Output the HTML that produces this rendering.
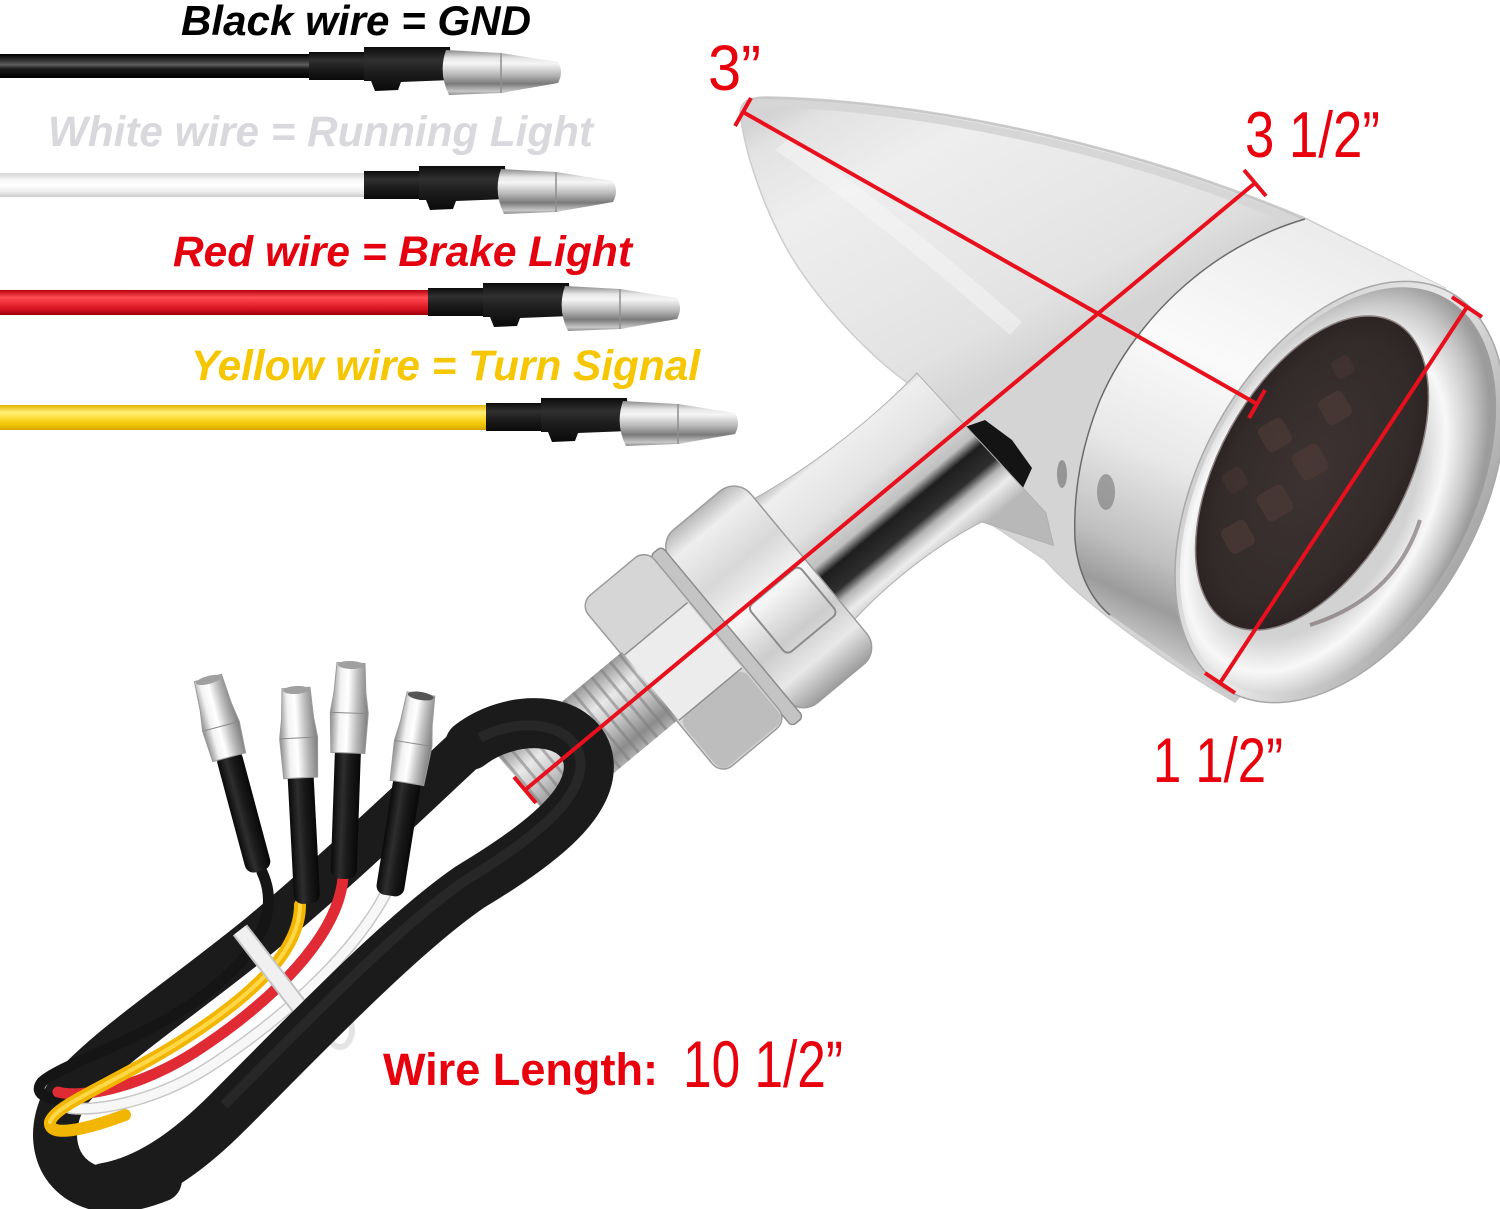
<!DOCTYPE html>
<html><head><meta charset="utf-8"><style>
html,body{margin:0;padding:0;background:#fff;}
svg{display:block;}
</style></head><body>
<svg width="1500" height="1209" viewBox="0 0 1500 1209" xmlns="http://www.w3.org/2000/svg" font-family="'Liberation Sans', Arial, sans-serif">
<defs>
 <linearGradient id="wBlack" x1="0" y1="0" x2="0" y2="1">
  <stop offset="0" stop-color="#000"/><stop offset="0.3" stop-color="#3a3a3a"/><stop offset="0.45" stop-color="#5e5e5e"/><stop offset="0.62" stop-color="#1a1a1a"/><stop offset="1" stop-color="#000"/>
 </linearGradient>
 <linearGradient id="wWhite" x1="0" y1="0" x2="0" y2="1">
  <stop offset="0" stop-color="#d4d4d4"/><stop offset="0.3" stop-color="#f8f8f8"/><stop offset="0.5" stop-color="#fff"/><stop offset="0.8" stop-color="#ebebeb"/><stop offset="1" stop-color="#cbcbcb"/>
 </linearGradient>
 <linearGradient id="wRed" x1="0" y1="0" x2="0" y2="1">
  <stop offset="0" stop-color="#b5000c"/><stop offset="0.3" stop-color="#ff4d54"/><stop offset="0.5" stop-color="#f0303a"/><stop offset="0.8" stop-color="#d0101c"/><stop offset="1" stop-color="#9c0008"/>
 </linearGradient>
 <linearGradient id="wYel" x1="0" y1="0" x2="0" y2="1">
  <stop offset="0" stop-color="#e2b400"/><stop offset="0.3" stop-color="#fff07a"/><stop offset="0.5" stop-color="#ffdf3a"/><stop offset="0.8" stop-color="#f0c300"/><stop offset="1" stop-color="#d2a400"/>
 </linearGradient>
 <linearGradient id="shrink" x1="0" y1="0" x2="0" y2="1">
  <stop offset="0" stop-color="#0c0c0c"/><stop offset="0.3" stop-color="#303030"/><stop offset="0.6" stop-color="#1c1c1c"/><stop offset="1" stop-color="#0a0a0a"/>
 </linearGradient>
 <linearGradient id="shrinkV" x1="0" y1="0" x2="1" y2="0">
  <stop offset="0" stop-color="#0a0a0a"/><stop offset="0.35" stop-color="#2e2e2e"/><stop offset="0.6" stop-color="#1a1a1a"/><stop offset="1" stop-color="#080808"/>
 </linearGradient>
 <linearGradient id="metal" x1="0" y1="0" x2="0" y2="1">
  <stop offset="0" stop-color="#8a8a8a"/><stop offset="0.18" stop-color="#e6e6e6"/><stop offset="0.3" stop-color="#f5f5f5"/><stop offset="0.55" stop-color="#b8b8b8"/><stop offset="0.75" stop-color="#7a7a7a"/><stop offset="0.92" stop-color="#c8c8c8"/><stop offset="1" stop-color="#8a8a8a"/>
 </linearGradient>
 <linearGradient id="metalH" x1="0" y1="0" x2="1" y2="0">
  <stop offset="0" stop-color="#8c8c8c"/><stop offset="0.25" stop-color="#f2f2f2"/><stop offset="0.45" stop-color="#ffffff"/><stop offset="0.7" stop-color="#bdbdbd"/><stop offset="1" stop-color="#7c7c7c"/>
 </linearGradient>
 <linearGradient id="bodyG" gradientUnits="userSpaceOnUse" x1="800" y1="100" x2="960" y2="400">
  <stop offset="0" stop-color="#d4d4d4"/><stop offset="0.07" stop-color="#e2e2e2"/><stop offset="0.3" stop-color="#eeeeee"/><stop offset="0.6" stop-color="#e8e8e8"/><stop offset="0.85" stop-color="#e2e2e2"/><stop offset="1" stop-color="#d4d4d4"/>
 </linearGradient>
 <linearGradient id="bandG" gradientUnits="userSpaceOnUse" x1="1330" y1="240" x2="1140" y2="650">
  <stop offset="0" stop-color="#ececec"/><stop offset="0.35" stop-color="#fafafa"/><stop offset="0.6" stop-color="#e8e8e8"/><stop offset="0.8" stop-color="#c0c0c0"/><stop offset="0.9" stop-color="#9c9c9c"/><stop offset="1" stop-color="#cccccc"/>
 </linearGradient>
 <linearGradient id="rimOuter" x1="0" y1="0" x2="0" y2="1">
  <stop offset="0" stop-color="#cfcfcf"/><stop offset="0.5" stop-color="#e8e8e8"/><stop offset="1" stop-color="#a8a8a8"/>
 </linearGradient>
 <radialGradient id="rimInner" cx="0.45" cy="0.45" r="0.55">
  <stop offset="0.6" stop-color="#d2d2d2"/><stop offset="0.75" stop-color="#f8f8f8"/><stop offset="0.9" stop-color="#c6c6c6"/><stop offset="1" stop-color="#9c9c9c"/>
 </radialGradient>
 <radialGradient id="lensG" cx="0.5" cy="0.5" r="0.6">
  <stop offset="0" stop-color="#3e3333"/><stop offset="0.7" stop-color="#332a2a"/><stop offset="1" stop-color="#241d1d"/>
 </radialGradient>
 <linearGradient id="stemG" gradientUnits="userSpaceOnUse" x1="0" y1="-78" x2="0" y2="90">
  <stop offset="0" stop-color="#bdbdbd"/><stop offset="0.08" stop-color="#eeeeee"/><stop offset="0.35" stop-color="#e2e2e2"/><stop offset="0.55" stop-color="#c0c0c0"/><stop offset="0.62" stop-color="#1e1e1e"/><stop offset="0.74" stop-color="#2e2e2e"/><stop offset="0.8" stop-color="#b4b4b4"/><stop offset="0.88" stop-color="#ececec"/><stop offset="1" stop-color="#b8b8b8"/>
 </linearGradient>
 <linearGradient id="collarG" gradientUnits="userSpaceOnUse" x1="0" y1="-105" x2="0" y2="120">
  <stop offset="0" stop-color="#b8b8b8"/><stop offset="0.1" stop-color="#eeeeee"/><stop offset="0.3" stop-color="#d8d8d8"/><stop offset="0.5" stop-color="#f6f6f6"/><stop offset="0.7" stop-color="#cccccc"/><stop offset="0.85" stop-color="#e8e8e8"/><stop offset="1" stop-color="#9c9c9c"/>
 </linearGradient>
 <linearGradient id="boltG" gradientUnits="userSpaceOnUse" x1="0" y1="-44" x2="0" y2="44">
  <stop offset="0" stop-color="#9a9a9a"/><stop offset="0.3" stop-color="#e8e8e8"/><stop offset="0.55" stop-color="#c8c8c8"/><stop offset="0.85" stop-color="#8c8c8c"/><stop offset="1" stop-color="#b0b0b0"/>
 </linearGradient>
</defs>

<rect width="1500" height="1209" fill="#fff"/>

<!-- ===== Wire labels ===== -->
<g font-weight="bold" font-style="italic" font-size="43">
 <text x="181" y="35" font-size="42" fill="#000" textLength="350" lengthAdjust="spacingAndGlyphs">Black wire = GND</text>
 <text x="48" y="146" fill="#d8d8dd" textLength="545" lengthAdjust="spacingAndGlyphs">White wire = Running Light</text>
 <text x="173" y="266" fill="#e4000f" textLength="459" lengthAdjust="spacingAndGlyphs">Red wire = Brake Light</text>
 <text x="191" y="380" fill="#f6c700" textLength="509" lengthAdjust="spacingAndGlyphs">Yellow wire = Turn Signal</text>
</g>

<!-- ===== Wires ===== -->
<rect x="0" y="54" width="318" height="24" fill="url(#wBlack)"/>
<rect x="0" y="173" width="372" height="24" fill="url(#wWhite)"/>
<rect x="0" y="290" width="436" height="25" fill="url(#wRed)"/>
<rect x="0" y="405" width="494" height="25" fill="url(#wYel)"/>

<g transform="translate(309,66)">
 <rect x="0" y="-14" width="62" height="28" fill="url(#shrink)"/>
 <path d="M55,-19 L141,-19 L143,14 L92,16 L89,24 L66,25 L62,15 L55,15 Z" fill="url(#shrink)"/>
 <path d="M137,-16 L192,-13 L249,-4 Q255,6 249,17 L192,27 L140,29 Q129,7 137,-16 Z" fill="url(#metal)"/>
 <path d="M192,-13 L192,27" stroke="#8e8e8e" stroke-width="1.5"/>
</g>
<g transform="translate(364,185)">
 <rect x="0" y="-14" width="62" height="28" fill="url(#shrink)"/>
 <path d="M55,-19 L141,-19 L143,14 L92,16 L89,24 L66,25 L62,15 L55,15 Z" fill="url(#shrink)"/>
 <path d="M137,-16 L192,-13 L249,-4 Q255,6 249,17 L192,27 L140,29 Q129,7 137,-16 Z" fill="url(#metal)"/>
 <path d="M192,-13 L192,27" stroke="#8e8e8e" stroke-width="1.5"/>
</g>
<g transform="translate(428,302)">
 <rect x="0" y="-14" width="62" height="28" fill="url(#shrink)"/>
 <path d="M55,-19 L141,-19 L143,14 L92,16 L89,24 L66,25 L62,15 L55,15 Z" fill="url(#shrink)"/>
 <path d="M137,-16 L192,-13 L249,-4 Q255,6 249,17 L192,27 L140,29 Q129,7 137,-16 Z" fill="url(#metal)"/>
 <path d="M192,-13 L192,27" stroke="#8e8e8e" stroke-width="1.5"/>
</g>
<g transform="translate(486,417)">
 <rect x="0" y="-14" width="62" height="28" fill="url(#shrink)"/>
 <path d="M55,-19 L141,-19 L143,14 L92,16 L89,24 L66,25 L62,15 L55,15 Z" fill="url(#shrink)"/>
 <path d="M137,-16 L192,-13 L249,-4 Q255,6 249,17 L192,27 L140,29 Q129,7 137,-16 Z" fill="url(#metal)"/>
 <path d="M192,-13 L192,27" stroke="#8e8e8e" stroke-width="1.5"/>
</g>

<!-- ===== Lamp body ===== -->
<path d="M740,112 Q741,97 766,97 C 900,99 1110,135 1305,218 L 1445,288 L 1500,400 L 1235,702 C 1160,660 1080,600 1045,560 L 985,520 L 912,386 C 868,356 808,292 780,236 C 760,196 744,150 740,112 Z" fill="url(#bodyG)" stroke="#cdcdcd" stroke-width="1.5"/>
<path d="M775,150 C 850,200 930,265 1010,335 L 1022,322 C 940,250 860,185 790,138 Z" fill="#f8f8f8" opacity="0.45"/>
<path d="M748,106 Q752,103 768,103 C 900,106 1110,142 1300,224" fill="none" stroke="#d6d6d6" stroke-width="8"/>
<path d="M745,102 Q750,98 766,98 C 900,100 1110,136 1304,219" fill="none" stroke="#c8c8c8" stroke-width="2"/>
<path d="M1305,219 C 1200,250 1130,330 1100,400 C 1082,445 1073,490 1075,540 C 1078,575 1092,600 1110,615 L 1235,702 L 1500,400 L 1445,288 Z" fill="url(#bandG)"/>
<path d="M1305,219 C 1200,250 1130,330 1100,400 C 1082,445 1073,490 1075,540 C 1078,575 1092,600 1110,615" fill="none" stroke="#6a6a6a" stroke-width="1.5"/>
<path d="M962,428 L985,420 L1012,440 L1032,468 L1022,490 L992,488 L968,452 Z" fill="#141414"/>
<ellipse cx="1106" cy="492" rx="9" ry="18" fill="#777" opacity="0.6"/>
<ellipse cx="1062" cy="474" rx="5" ry="14" fill="#555" opacity="0.5"/>

<!-- rim & lens -->
<ellipse cx="0" cy="0" rx="228" ry="140" transform="translate(1340,492) rotate(-61)" fill="url(#rimOuter)" stroke="#a8a8a8" stroke-width="1.5"/>
<ellipse cx="0" cy="0" rx="221" ry="133" transform="translate(1338,491) rotate(-61)" fill="url(#rimInner)"/>
<ellipse cx="0" cy="0" rx="172" ry="93" transform="translate(1312,473) rotate(-61)" fill="url(#lensG)" stroke="#8a8080" stroke-width="1.5"/>
<g fill="#4c3a36" opacity="0.75">
 <rect x="-14" y="-14" width="28" height="28" rx="6" transform="translate(1335,408) rotate(-30)"/>
 <rect x="-14" y="-14" width="28" height="28" rx="6" transform="translate(1275,435) rotate(-30)"/>
 <rect x="-15" y="-15" width="30" height="30" rx="6" transform="translate(1310,462) rotate(-30)"/>
 <rect x="-15" y="-15" width="30" height="30" rx="6" transform="translate(1275,503) rotate(-30)"/>
 <rect x="-14" y="-14" width="28" height="28" rx="6" transform="translate(1238,537) rotate(-30)"/>
 <rect x="-10" y="-10" width="20" height="20" rx="5" transform="translate(1343,367) rotate(-30)" opacity="0.6"/>
 <rect x="-11" y="-11" width="22" height="22" rx="5" transform="translate(1235,480) rotate(-30)" opacity="0.6"/>
</g>
<path d="M1420,520 Q1395,598 1310,625" fill="none" stroke="#6e6464" stroke-width="4" opacity="0.6"/>

<!-- ===== Mount (axis frame) ===== -->
<g transform="matrix(-0.769,0.639,0.639,0.769,1000,395)">
 <path d="M50,-70 C 120,-62 200,-66 258,-78 L 258,80 C 200,72 140,76 95,86 L 55,150 L 40,120 Z" fill="url(#stemG)" stroke="#b0b0b0" stroke-width="1"/>
 <rect x="255" y="-105" width="104" height="225" rx="22" fill="url(#collarG)" stroke="#9c9c9c" stroke-width="1.5"/>
 <rect x="264" y="2" width="66" height="62" rx="6" fill="none" stroke="#8c8c8c" stroke-width="2"/>
 <rect x="357" y="-100" width="15" height="222" rx="5" fill="#c4c4c4" stroke="#8c8c8c" stroke-width="1.5"/>
 <rect x="371" y="-108" width="86" height="222" rx="14" fill="#d6d6d6" stroke="#9c9c9c" stroke-width="1.5"/>
 <rect x="373" y="-40" width="82" height="85" fill="#ececec"/>
 <rect x="373" y="45" width="82" height="67" rx="10" fill="#bdbdbd"/>
 <line x1="373" y1="-40" x2="455" y2="-40" stroke="#8e8e8e" stroke-width="1.5"/>
 <line x1="373" y1="45" x2="455" y2="45" stroke="#8e8e8e" stroke-width="1.5"/>
 <rect x="455" y="-44" width="162" height="88" fill="url(#boltG)"/>
 <line x1="457" y1="0" x2="617" y2="0" stroke="#7e7e7e" stroke-width="88" stroke-dasharray="3 9" opacity="0.55"/>
</g>

<!-- ===== Cable loop (back strand) ===== -->
<path d="M470,745 C 440,772 350,860 260,935 C 180,1000 110,1045 70,1090 C 45,1125 50,1175 95,1188 C 120,1193 140,1188 160,1180" stroke="#1b1b1b" stroke-width="44" fill="none" stroke-linecap="round"/>

<!-- thin wires -->
<path d="M262,872 C 282,915 255,960 190,1005 C 130,1045 60,1065 42,1082 C 32,1095 50,1102 75,1098" stroke="#151515" stroke-width="11" fill="none" stroke-linecap="round"/>
<path d="M385,895 C 355,950 295,1010 215,1063 C 160,1100 100,1112 70,1108" stroke="#c8c8c8" stroke-width="12" fill="none" stroke-linecap="round"/>
<path d="M385,895 C 355,950 295,1010 215,1063 C 160,1100 100,1112 70,1108" stroke="#f7f7f7" stroke-width="9" fill="none" stroke-linecap="round"/>
<path d="M343,878 C 338,935 275,1000 195,1052 C 135,1090 80,1098 58,1092" stroke="#e02a34" stroke-width="11" fill="none" stroke-linecap="round"/>
<path d="M300,905 C 300,950 255,995 175,1045 C 110,1085 55,1105 50,1122 C 48,1138 85,1130 125,1115" stroke="#f2b600" stroke-width="12" fill="none" stroke-linecap="round"/>
<path d="M300,905 C 300,950 255,995 175,1045 C 110,1085 55,1105 50,1122" stroke="#ffd84a" stroke-width="4" fill="none" stroke-linecap="round"/>

<!-- terminals -->
<g transform="translate(208,678) rotate(-15)">
 <rect x="-13" y="76" width="26" height="124" rx="9" fill="url(#shrinkV)"/>
 <path d="M-14,0 L14,0 L16,30 L19,50 L17,82 L-17,82 L-19,50 L-16,30 Z" fill="url(#metalH)" stroke="#9a9a9a" stroke-width="1"/>
 <line x1="-18" y1="50" x2="18" y2="50" stroke="#8a8a8a"/>
 <ellipse cx="0" cy="2" rx="13" ry="4" fill="#a0a0a0"/>
</g>
<g transform="translate(296,688) rotate(-3)">
 <rect x="-13" y="76" width="26" height="140" rx="9" fill="url(#shrinkV)"/>
 <path d="M-14,0 L14,0 L16,30 L19,50 L17,90 L-17,90 L-19,50 L-16,30 Z" fill="url(#metalH)" stroke="#9a9a9a" stroke-width="1"/>
 <line x1="-18" y1="50" x2="18" y2="50" stroke="#8a8a8a"/>
 <ellipse cx="0" cy="2" rx="13" ry="4" fill="#a0a0a0"/>
</g>
<g transform="translate(351,663) rotate(2)">
 <rect x="-13" y="80" width="26" height="136" rx="9" fill="url(#shrinkV)"/>
 <path d="M-14,0 L14,0 L16,30 L19,50 L17,90 L-17,90 L-19,50 L-16,30 Z" fill="url(#metalH)" stroke="#9a9a9a" stroke-width="1"/>
 <line x1="-18" y1="50" x2="18" y2="50" stroke="#8a8a8a"/>
 <ellipse cx="0" cy="2" rx="13" ry="4" fill="#a0a0a0"/>
</g>
<g transform="translate(421,694) rotate(9)">
 <rect x="-14" y="80" width="28" height="124" rx="9" fill="url(#shrinkV)"/>
 <path d="M-14,0 L14,0 L16,30 L19,50 L17,90 L-17,90 L-19,50 L-16,30 Z" fill="url(#metalH)" stroke="#9a9a9a" stroke-width="1"/>
 <line x1="-18" y1="50" x2="18" y2="50" stroke="#8a8a8a"/>
 <ellipse cx="0" cy="2" rx="13" ry="4" fill="#555"/>
</g>

<!-- zip tie -->
<path d="M240,930 L322,1036" stroke="#c4c4c4" stroke-width="18" fill="none"/>
<path d="M240,930 L322,1036" stroke="#f0f0f0" stroke-width="14" fill="none"/>
<ellipse cx="340" cy="1030" rx="12" ry="17" fill="none" stroke="#e4e4e4" stroke-width="6"/>

<!-- ===== Cable loop (front band) ===== -->
<path d="M470,745 C 510,714 578,714 588,758 C 596,800 545,842 470,887 C 400,935 300,1040 228,1112 C 190,1150 150,1180 105,1188" stroke="#1b1b1b" stroke-width="50" fill="none" stroke-linecap="round"/>
<path d="M480,738 C 515,718 572,720 580,758 C 586,795 540,835 466,880 C 396,928 296,1033 224,1105" stroke="#2a2a2a" stroke-width="10" fill="none" opacity="0.8"/>

<!-- ===== Red dimension lines ===== -->
<g stroke="#e8101c" stroke-width="4" fill="none">
 <line x1="743" y1="112" x2="1257" y2="404"/>
 <line x1="751" y1="98" x2="735" y2="126"/>
 <line x1="1265" y1="390" x2="1249" y2="418"/>
 <line x1="1255" y1="183" x2="525" y2="790"/>
 <line x1="1244" y1="170" x2="1266" y2="196"/>
 <line x1="514" y1="777" x2="536" y2="803"/>
 <line x1="1467" y1="307" x2="1220" y2="683"/>
 <line x1="1452" y1="297" x2="1482" y2="317"/>
 <line x1="1205" y1="673" x2="1235" y2="693"/>
</g>

<!-- ===== Dimension labels ===== -->
<g fill="#e8000d">
 <text x="708" y="90" font-size="64" textLength="53" lengthAdjust="spacingAndGlyphs">3”</text>
 <text x="1245" y="157" font-size="65" textLength="135" lengthAdjust="spacingAndGlyphs">3 1/2”</text>
 <text x="1153" y="782" font-size="63" textLength="130" lengthAdjust="spacingAndGlyphs">1 1/2”</text>
 <text x="683" y="1087" font-size="66" textLength="160" lengthAdjust="spacingAndGlyphs">10 1/2”</text>
 <text x="383" y="1085" font-size="45" font-weight="bold" textLength="275" lengthAdjust="spacingAndGlyphs">Wire Length:</text>
</g>
</svg>
</body></html>
